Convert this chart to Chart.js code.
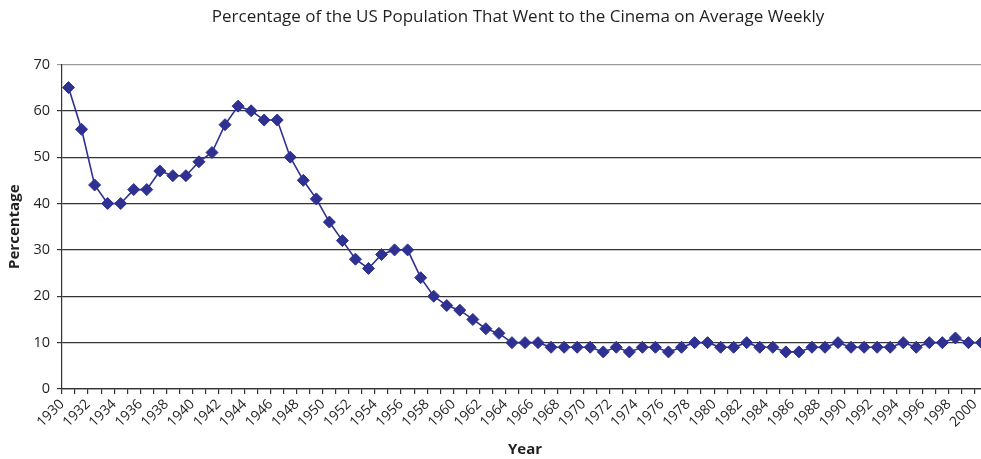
<!DOCTYPE html>
<html>
<head>
<meta charset="utf-8">
<title>Weekly cinema attendance</title>
<script src="https://cdn.jsdelivr.net/npm/chart.js@4.4.1/dist/chart.umd.min.js"></script>
<style>
    html, body { margin: 0; padding: 0; background: #fff; overflow: hidden; }
    #wrap { position: relative; width: 981px; height: 459px; }
</style>
</head>
<body>
<div id="wrap"><canvas id="cinemaChart"></canvas></div>
<script>
// Years on the x axis
const years = [
    1930, 1931, 1932, 1933, 1934, 1935, 1936, 1937, 1938, 1939,
    1940, 1941, 1942, 1943, 1944, 1945, 1946, 1947, 1948, 1949,
    1950, 1951, 1952, 1953, 1954, 1955, 1956, 1957, 1958, 1959,
    1960, 1961, 1962, 1963, 1964, 1965, 1966, 1967, 1968, 1969,
    1970, 1971, 1972, 1973, 1974, 1975, 1976, 1977, 1978, 1979,
    1980, 1981, 1982, 1983, 1984, 1985, 1986, 1987, 1988, 1989,
    1990, 1991, 1992, 1993, 1994, 1995, 1996, 1997, 1998, 1999,
    2000
];

// Percentage of population going to the cinema weekly
const weeklyPct = [
    65, 56, 44, 40, 40, 43, 43, 47, 46, 46,
    49, 51, 57, 61, 60, 58, 58, 50, 45, 41,
    36, 32, 28, 26, 29, 30, 30, 24, 20, 18,
    17, 15, 13, 12, 10, 10, 10, 9, 9, 9,
    9, 8, 9, 8, 9, 9, 8, 9, 10, 10,
    9, 9, 10, 9, 9, 8, 8, 9, 9, 10,
    9, 9, 9, 9, 10, 9, 10, 10, 11, 10,
    10
];

const yTicks = [0, 10, 20, 30, 40, 50, 60, 70];

const fontFamily = '"Open Sans", "Noto Sans", sans-serif';
const textColor = '#231f20';
const lineColor = '#2e3092';

const points = years.map((yr, i) => ({ x: yr, y: weeklyPct[i] }));

// the original image is cropped a few px inside the plot, so push the
// plot's right edge past the canvas
const stretchRight = {
    id: 'stretchRight',
    afterLayout(chart) {
        const right = chart.width + 7;
        const area = chart.chartArea;
        area.right = right;
        area.width = right - area.left;
        const x = chart.scales.x;
        x.right = right;
        x.width = right - x.left;
        x.configure();
    }
};

const ctx = document.getElementById('cinemaChart').getContext('2d');
new Chart(ctx, {
    type: 'line',
    data: {
        datasets: [{
            label: 'Percentage',
            data: points,
            borderColor: lineColor,
            backgroundColor: lineColor,
            borderWidth: 1.6,
            pointStyle: 'rectRot',
            pointRadius: 6,
            pointBorderWidth: 1,
            pointBackgroundColor: lineColor,
            pointBorderColor: lineColor,
            tension: 0,
            clip: false
        }]
    },
    plugins: [stretchRight],
    options: {
        responsive: true,
        maintainAspectRatio: false,
        animation: false,
        layout: { padding: 0 },
        plugins: {
            legend: { display: false },
            tooltip: { enabled: false },
            title: {
                display: true,
                fullSize: false,
                text: 'Percentage of the US Population That Went to the Cinema on Average Weekly',
                color: textColor,
                font: { family: fontFamily, size: 17, weight: 'normal', lineHeight: 1.2 },
                padding: { top: 7, bottom: 37 }
            }
        },
        scales: {
            x: {
                type: 'linear',
                min: years[0] - 0.5,
                max: years[years.length - 1] + 0.5,
                afterBuildTicks: function (scale) {
                    scale.ticks = years.map(yr => ({ value: yr - 0.5 }));
                },
                afterFit: function (scale) {
                    scale.height = 70;
                    scale.paddingRight = 0;
                    scale.paddingLeft = 0;
                },
                border: { color: '#333', width: 1.2 },
                grid: {
                    drawOnChartArea: false,
                    drawTicks: true,
                    tickLength: 5,
                    color: '#333',
                    lineWidth: 1.2
                },
                ticks: {
                    autoSkip: false,
                    minRotation: 45,
                    maxRotation: 45,
                    padding: 2,
                    color: textColor,
                    font: { family: fontFamily, size: 14 },
                    callback: function (val, i) {
                        return i % 2 === 0 ? String(years[i]) : '';
                    }
                },
                title: {
                    display: true,
                    text: 'Year',
                    color: textColor,
                    font: { family: fontFamily, size: 15, weight: 'bold', lineHeight: 1.2 },
                    padding: { top: 0, bottom: 0 }
                }
            },
            y: {
                min: 0,
                max: 70,
                afterFit: function (scale) { scale.width = 62; },
                afterBuildTicks: function (scale) {
                    scale.ticks = yTicks.map(v => ({ value: v }));
                },
                border: { color: '#333', width: 1.2 },
                grid: {
                    drawTicks: true,
                    tickLength: 5,
                    lineWidth: 1.2,
                    color: function (c) {
                        return c.tick && c.tick.value === 70 ? '#9a9a9a' : '#333';
                    }
                },
                ticks: {
                    padding: 7,
                    color: textColor,
                    font: { family: fontFamily, size: 14.5 }
                },
                title: {
                    display: true,
                    text: 'Percentage',
                    color: textColor,
                    font: { family: fontFamily, size: 15, weight: 'bold', lineHeight: 1.2 },
                    padding: { top: 6, bottom: 0 }
                }
            }
        }
    }
});
</script>
</body>
</html>
